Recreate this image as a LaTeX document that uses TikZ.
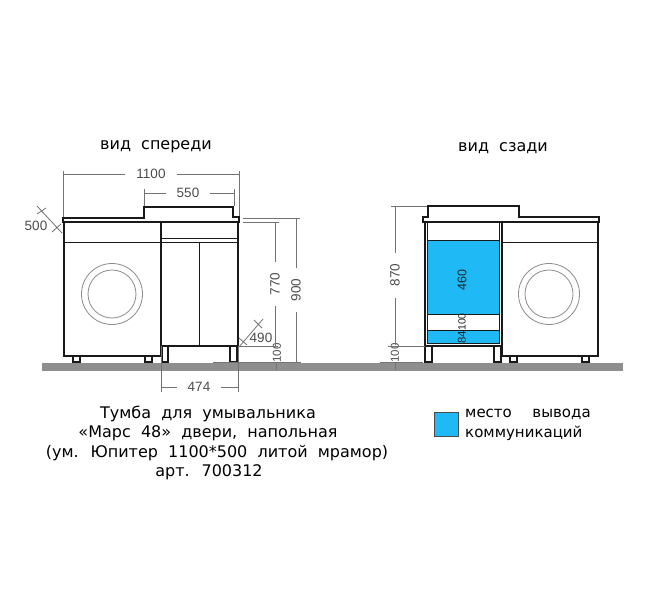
\documentclass[tikz,border=0pt]{standalone}
\usepackage{fontspec}
\setmainfont{DejaVu Sans}
\newfontfamily\dimfont{Liberation Sans}
\definecolor{pipeblue}{HTML}{1FB9F6}
\definecolor{floorgray}{HTML}{8E8E8E}
\begin{document}
\begin{tikzpicture}[x=1pt,y=-1pt,line join=miter]
      \tikzset{body/.style={draw=black!90,line width=1.3pt,fill=white}}
      \tikzset{thin body/.style={draw=black!90,line width=1pt}}
      \tikzset{drum/.style={draw=black!45,line width=.8pt}}
      \tikzset{dimline/.style={draw=black!55,line width=.8pt}}
      \tikzset{dimgap/.style={dimline,shorten >=10pt}}
      \tikzset{dimtext/.style={text=black!70,inner sep=1pt,font=\dimfont\fontsize{13.5}{14}\selectfont}}
      \tikzset{dimup/.style={dimtext,rotate=90}}
      \tikzset{smalldim/.style={dimtext,rotate=90,font=\dimfont\fontsize{11.5}{12}\selectfont}}
      \tikzset{caption/.style={inner sep=0pt,text=black,font=\fontsize{16}{18}\selectfont}}
      \tikzset{legendtext/.style={caption,anchor=west,font=\fontsize{15}{17}\selectfont}}

      \useasboundingbox (0,0) rectangle (646,594);
      \fill[white] (0,0) rectangle (646,594);
      \fill[floorgray] (42,363) rectangle (623,371);

      % front view
      \draw[body] (73,356) rectangle (80,362);
      \draw[body] (145,356) rectangle (152,362);
      \draw[body] (162,346) rectangle (168,362);
      \draw[body] (230,346) rectangle (237,362);
      \draw[body] (64,222) rectangle (161,356);
      \draw[body] (161,222) rectangle (238,346);
      \draw[body] (63,222) -- (63,218) -- (144,218) -- (144,207) -- (233,207) -- (233,217) -- (239,217) -- (239,222) -- cycle;
      \draw[thin body] (64,242) -- (161,242);
      \draw[thin body] (161,238) -- (238,238) (161,242) -- (238,242);
      \draw[thin body] (199,242) -- (199,346);
      \draw[drum] (112,294) circle (30.5) (112,294) circle (24);

      % back view
      \draw[body] (494,346) rectangle (501,362);
      \draw[body] (425,346) rectangle (432,362);
      \draw[body] (510,356) rectangle (517,362);
      \draw[body] (582,356) rectangle (589,362);
      \draw[body] (502,222) rectangle (598,356);
      \draw[body] (425,222) rectangle (502,346);
      \fill[pipeblue] (427,240) rectangle (499,314);
      \fill[pipeblue] (427,330) rectangle (499,343);
      \draw[thin body] (427,240) -- (499,240) (427,314) -- (499,314) (427,330) -- (499,330) (427,343) -- (499,343);
      \draw[thin body] (427,222) -- (427,344) (499,222) -- (499,344);
      \draw[body] (423,222) -- (423,217) -- (428,217) -- (428,206) -- (519,206) -- (519,217) -- (599,217) -- (599,222) -- cycle;
      \draw[thin body] (502,242) -- (598,242);
      \draw[drum] (549,294) circle (30.5) (549,294) circle (24);

      % titles
      \node[caption] (titlefront) at (156,147) {вид~ спереди};
      \node[caption] (titleback) at (503,148) {вид~ сзади};

      % front dimensions
      \node[dimtext] (d1100) at (151,174) {1100};
      \node[dimtext] (d550) at (188,193) {550};
      \node[dimtext] (d500) at (36,226) {500};
      \node[dimup] (d770) at (275,284) {770};
      \node[dimup] (d900) at (296,290) {900};
      \node[dimtext] (d490) at (261,338) {490};
      \node[smalldim] (d100a) at (277,353) {100};
      \node[dimtext] (d474) at (199,387) {474};

      \coordinate (a1) at (63,174);
      \coordinate (a2) at (239,174);
      \draw[dimline] (63,171) -- (63,217) (239,171) -- (239,216);
      \draw[dimgap] (a1) -- (d1100.west);
      \draw[dimgap] (a2) -- (d1100.east);
      \coordinate (b1) at (144,193);
      \coordinate (b2) at (234,193);
      \draw[dimline] (144,189) -- (144,206) (234,189) -- (234,206);
      \draw[dimgap] (b1) -- (d550.west);
      \draw[dimgap] (b2) -- (d550.east);

      \draw[dimline] (37,206) -- (62,233) (37,214) -- (46,208) (52,232) -- (61,224);
      \draw[dimline] (243,218) -- (300,218) (243,222) -- (279,222);
      \draw[dimline] (238,346) -- (278,346) (213,362) -- (301,362);
      \coordinate (c1) at (275,222);
      \coordinate (c2) at (275,346);
      \coordinate (e1) at (296,218);
      \coordinate (e2) at (296,362);
      \draw[dimgap] (c1) -- (d770.east);
      \draw[dimgap] (c2) -- (d770.west);
      \draw[dimgap] (e1) -- (d900.east);
      \draw[dimgap] (e2) -- (d900.west);
      \draw[dimline] (276,362) -- (276,370);

      \draw[dimline] (239,347) -- (263,319) (239,338) -- (247,345) (254,320) -- (262,328);
      \coordinate (f1) at (161,387);
      \coordinate (f2) at (238,387);
      \draw[dimline] (161,346) -- (161,392) (238,346) -- (238,392);
      \draw[dimgap] (f1) -- (d474.west);
      \draw[dimgap] (f2) -- (d474.east);

      % back dimensions
      \node[dimup] (d870) at (395,275) {870};
      \node[smalldim] (d100b) at (395,353) {100};
      \coordinate (g1) at (395,206);
      \coordinate (g2) at (395,345);
      \draw[dimline] (391,206) -- (427,206) (388,346) -- (425,346) (380,362) -- (423,362);
      \draw[dimgap] (g1) -- (d870.east);
      \draw[dimgap,shorten >=11pt] (g2) -- (d870.west);
      \draw[dimline] (395,362) -- (395,370);
      \node[smalldim,text=black!85,font=\dimfont\fontsize{12.5}{13}\selectfont] (d460) at (462,280) {460};
      \node[smalldim,text=black!85,font=\dimfont\fontsize{10.5}{12}\selectfont] (d100c) at (462,322) {100};
      \node[smalldim,text=black!85] (d84) at (462,337) {84};

      % caption
      \node[caption] (line1) at (208,414) {Тумба~ для~ умывальника};
      \node[caption] (line2) at (208,433) {«Марс~ 48»~ двери,~ напольная};
      \node[caption] (line3) at (217,453) {(ум.~ Юпитер~ 1100*500~ литой~ мрамор)};
      \node[caption] (line4) at (209,472) {арт.~ 700312};

      % legend
      \draw[fill=pipeblue,draw=black!70,line width=.9pt] (434,412) rectangle (458,436);
      \node[legendtext] (legend1) at (465,414) {место~ \hspace{11pt}вывода};
      \node[legendtext] (legend2) at (465,433) {коммуникаций};
\end{tikzpicture}
\end{document}
